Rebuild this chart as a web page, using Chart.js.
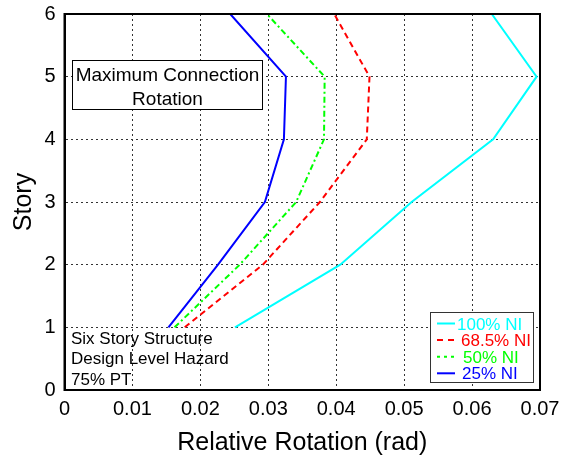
<!DOCTYPE html>
<html>
<head>
<meta charset="utf-8">
<script src="https://cdn.jsdelivr.net/npm/chart.js@4/dist/chart.umd.min.js"></script>
<style>
  html, body { margin: 0; padding: 0; background: #fff; }
  #wrap { width: 565px; height: 458px; }
</style>
</head>
<body>
<div id="wrap"><canvas id="rotChart"></canvas></div>
<script>
// stories and max connection rotations (rad) per NI level
const stories = [1, 2, 3, 4, 5, 6];
const ni100 = [0.0251, 0.0406, 0.0511, 0.0631, 0.0695, 0.0629];
const ni685 = [0.0177, 0.0292, 0.0376, 0.0445, 0.0449, 0.0397];
const ni50 = [0.0162, 0.0258, 0.0341, 0.0382, 0.0383, 0.0298];
const ni25 = [0.0153, 0.0226, 0.0295, 0.0323, 0.0326, 0.0244];
const xTicks = [0, 0.01, 0.02, 0.03, 0.04, 0.05, 0.06, 0.07];
const seriesNames = ['100% NI', '68.5% NI', '50% NI', '25% NI'];
const notes = ['Six Story Structure', 'Design Level Hazard', '75% PT'];

const FONT = 'Liberation Sans, Arial, Helvetica, sans-serif';

const toPts = vals => vals.map((v, i) => ({ x: v, y: stories[i] }));

const styles = [
    { color: '#00ffff', dash: [], key: [], textX: 457 },
    { color: '#ff0000', dash: [6, 4], key: [6, 5], textX: 461 },
    { color: '#00ff00', dash: [6, 3, 2, 3], key: [3, 4], textX: 463 },
    { color: '#0000ff', dash: [], key: [], textX: 462 }
];

const datasets = [ni100, ni685, ni50, ni25].map((vals, i) => ({
    label: seriesNames[i],
    data: toPts(vals),
    showLine: true,
    borderColor: styles[i].color,
    borderDash: styles[i].dash,
    borderWidth: 2,
    pointRadius: 0,
    tension: 0
}));

// frame, title box, notes and legend box
const boxes = {
    id: 'boxes',
    afterDatasetsDraw(chart) {
        const { ctx, chartArea: a } = chart;
        ctx.save();
        ctx.setLineDash([]);
        ctx.strokeStyle = '#000';
        ctx.lineWidth = 2;
        ctx.strokeRect(a.left, a.top, a.right - a.left, a.bottom - a.top);

        // title box
        ctx.lineWidth = 1;
        ctx.fillStyle = '#fff';
        ctx.fillRect(72.5, 60.5, 190, 49);
        ctx.strokeRect(72.5, 60.5, 190, 49);
        ctx.fillStyle = '#000';
        ctx.font = '19px ' + FONT;
        ctx.textAlign = 'center';
        ctx.textBaseline = 'alphabetic';
        ctx.fillText('Maximum Connection', 167.5, 81);
        ctx.fillText('Rotation', 167.5, 105);

        // notes bottom-left
        ctx.font = '17px ' + FONT;
        ctx.textAlign = 'left';
        notes.forEach((t, i) => ctx.fillText(t, 71, 343.5 + i * 20.5));

        // legend box
        ctx.fillStyle = '#fff';
        ctx.fillRect(430.5, 312.5, 103, 70);
        ctx.strokeStyle = '#333';
        ctx.lineWidth = 1;
        ctx.strokeRect(430.5, 312.5, 103, 70);
        ctx.font = '17px ' + FONT;
        seriesNames.forEach((name, i) => {
            const y = 323.5 + i * 16.6;
            ctx.strokeStyle = styles[i].color;
            ctx.lineWidth = 2;
            ctx.setLineDash(styles[i].key);
            ctx.beginPath();
            ctx.moveTo(437, y);
            ctx.lineTo(455, y);
            ctx.stroke();
            ctx.fillStyle = styles[i].color;
            ctx.fillText(name, styles[i].textX, y + 6);
        });
        ctx.restore();
    }
};

new Chart(document.getElementById('rotChart').getContext('2d'), {
    type: 'scatter',
    data: { datasets },
    options: {
        responsive: true,
        maintainAspectRatio: false,
        animation: false,
        layout: { padding: { top: 14, right: 25, left: 0, bottom: 0 } },
        plugins: { legend: { display: false }, tooltip: { enabled: false } },
        scales: {
            x: {
                type: 'linear',
                min: 0,
                max: 0.07,
                afterBuildTicks: s => { s.ticks = xTicks.map(v => ({ value: v })); },
                afterFit: s => { s.height = 68; s.paddingLeft = 0; s.paddingRight = 0; },
                ticks: {
                    color: '#000',
                    font: { family: FONT, size: 20 },
                    padding: 7,
                    maxRotation: 0,
                    callback: v => (v === 0 ? '0' : Number(v).toFixed(2))
                },
                grid: { color: '#333', lineWidth: 1, drawTicks: false },
                border: { display: true, color: '#000', width: 2, dash: [2, 3] },
                title: {
                    display: true,
                    text: 'Relative Rotation (rad)',
                    color: '#000',
                    font: { family: FONT, size: 25 },
                    padding: { top: 2, bottom: 0 }
                }
            },
            y: {
                type: 'linear',
                min: 0,
                max: 6,
                afterFit: s => { s.width = 64.5; s.paddingTop = 0; s.paddingBottom = 0; },
                ticks: {
                    stepSize: 1,
                    color: '#000',
                    font: { family: FONT, size: 20 },
                    padding: 9
                },
                grid: { color: '#333', lineWidth: 1, drawTicks: false },
                border: { display: true, color: '#000', width: 2, dash: [2, 3] },
                title: {
                    display: true,
                    text: 'Story',
                    color: '#000',
                    font: { family: FONT, size: 25 },
                    padding: { top: 9, bottom: 0 }
                }
            }
        }
    },
    plugins: [boxes]
});
</script>
</body>
</html>
